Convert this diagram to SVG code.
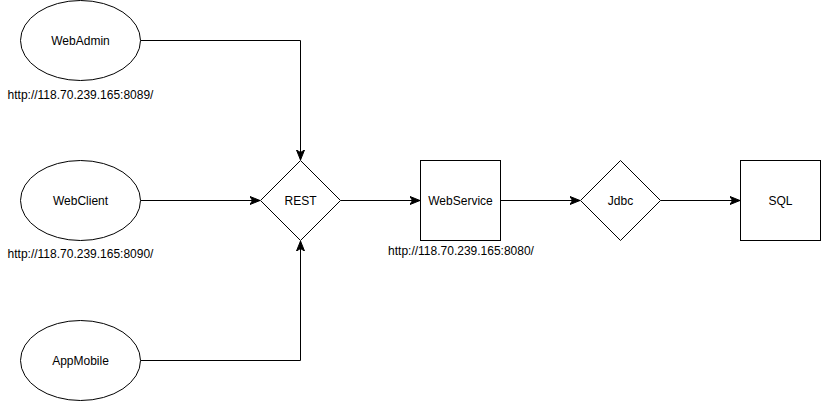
<svg xmlns="http://www.w3.org/2000/svg" width="821" height="401" viewBox="0 0 821 401">
<style>
.shape{fill:#ffffff;stroke:#000000;stroke-width:1}
.edge{fill:none;stroke:#000000;stroke-width:1}
text{font-family:"Liberation Sans",Arial,Helvetica,sans-serif;font-size:12px;fill:#000000}
.c{text-anchor:middle;dominant-baseline:central}
</style>
<defs>
<marker id="arr" viewBox="0 0 10 10" refX="10" refY="5" markerWidth="10" markerHeight="10" markerUnits="userSpaceOnUse" orient="auto">
<path d="M0,1 L10,5 L0,9 L2.5,5 Z" fill="#000000" stroke="#000000" stroke-width="1"/>
</marker>
</defs>
<rect width="821" height="401" fill="#ffffff"/>
<g id="connectors">
<path class="edge" d="M140.5,40.5 L300.5,40.5 L300.5,160" marker-end="url(#arr)"/>
<path class="edge" d="M140.5,200.5 L260,200.5" marker-end="url(#arr)"/>
<path class="edge" d="M140.5,360.5 L300.5,360.5 L300.5,241" marker-end="url(#arr)"/>
<path class="edge" d="M340.5,200.5 L420,200.5" marker-end="url(#arr)"/>
<path class="edge" d="M500.5,200.5 L580,200.5" marker-end="url(#arr)"/>
<path class="edge" d="M660.5,200.5 L740,200.5" marker-end="url(#arr)"/>
</g>
<g id="WebAdmin">
<ellipse class="shape" cx="80.5" cy="40.5" rx="60" ry="40"/>
<text class="c" x="80.5" y="40.5">WebAdmin</text>
</g>
<g id="WebAdminUrl">
<text class="c" x="80.5" y="94.5">http://118.70.239.165:8089/</text>
</g>
<g id="WebClient">
<ellipse class="shape" cx="80.5" cy="200.5" rx="60" ry="40"/>
<text class="c" x="80.5" y="200.5">WebClient</text>
</g>
<g id="WebClientUrl">
<text class="c" x="80.5" y="253.5">http://118.70.239.165:8090/</text>
</g>
<g id="AppMobile">
<ellipse class="shape" cx="80.5" cy="360.5" rx="60" ry="40"/>
<text class="c" x="80.5" y="360.5">AppMobile</text>
</g>
<g id="REST">
<polygon class="shape" points="300.5,160.5 340.5,200.5 300.5,240.5 260.5,200.5"/>
<text class="c" x="300.5" y="200.5">REST</text>
</g>
<g id="WebService">
<rect class="shape" x="420.5" y="160.5" width="80" height="80"/>
<text class="c" x="460.5" y="200.5">WebService</text>
</g>
<g id="WebServiceUrl">
<text class="c" x="461" y="250.5">http://118.70.239.165:8080/</text>
</g>
<g id="Jdbc">
<polygon class="shape" points="620.5,160.5 660.5,200.5 620.5,240.5 580.5,200.5"/>
<text class="c" x="620.5" y="200.5">Jdbc</text>
</g>
<g id="SQL">
<rect class="shape" x="740.5" y="160.5" width="80" height="80"/>
<text class="c" x="780.5" y="200.5">SQL</text>
</g>
</svg>
